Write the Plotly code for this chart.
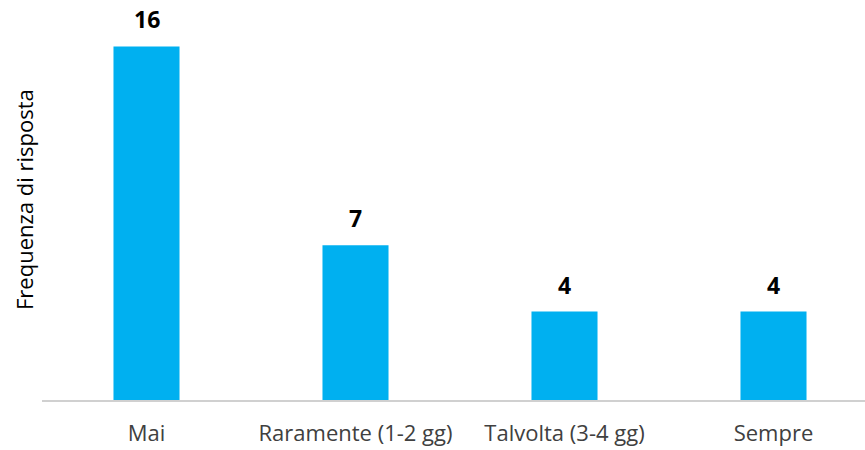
import plotly.graph_objects as go

categories = ["Mai", "Raramente (1-2 gg)", "Talvolta (3-4 gg)", "Sempre"]
values = [16, 7, 4, 4]
y_title = "Frequenza di risposta"

W, H = 865, 450
ml, mr, mt, mb = 42, 0, 0, 50
plot_w = W - ml - mr
FONT = "Open Sans, Noto Sans, sans-serif"

xs = list(range(len(categories)))

fig = go.Figure(go.Bar(
    x=xs,
    y=values,
    width=0.316,
    marker=dict(color="#00B0F0", line=dict(width=0)),
))

annotations = [dict(
    text=y_title, textangle=-90,
    xref="paper", yref="paper",
    x=(24 - ml) / plot_w, y=0.5,
    xanchor="center", yanchor="middle",
    showarrow=False,
    font=dict(family=FONT, size=22, color="#000000"),
)]
for xi, v in zip(xs, values):
    annotations.append(dict(
        x=xi, y=v, xref="x", yref="y",
        text=f"<b>{v}</b>", showarrow=False,
        xanchor="center", yanchor="bottom", yshift=9,
        font=dict(family=FONT, size=23, color="#000000"),
    ))

fig.update_layout(
    width=W, height=H,
    margin=dict(l=ml, r=mr, t=mt, b=mb),
    plot_bgcolor="white", paper_bgcolor="white",
    showlegend=False,
    font=dict(family=FONT, size=22, color="#404040"),
    xaxis=dict(
        tickmode="array",
        tickvals=xs,
        ticktext=categories,
        range=[-0.5, -0.5 + plot_w / 209.0],
        showgrid=False, zeroline=False,
        showline=True, linecolor="#D0D0D0", linewidth=1.5,
        ticks="", ticklabelstandoff=13,
        tickfont=dict(family=FONT, size=22, color="#404040"),
    ),
    yaxis=dict(
        range=[0, 400 / 22.1],
        showgrid=False, zeroline=False, showline=False,
        showticklabels=False, ticks="",
    ),
    annotations=annotations,
)

fig.write_html("out.html")
